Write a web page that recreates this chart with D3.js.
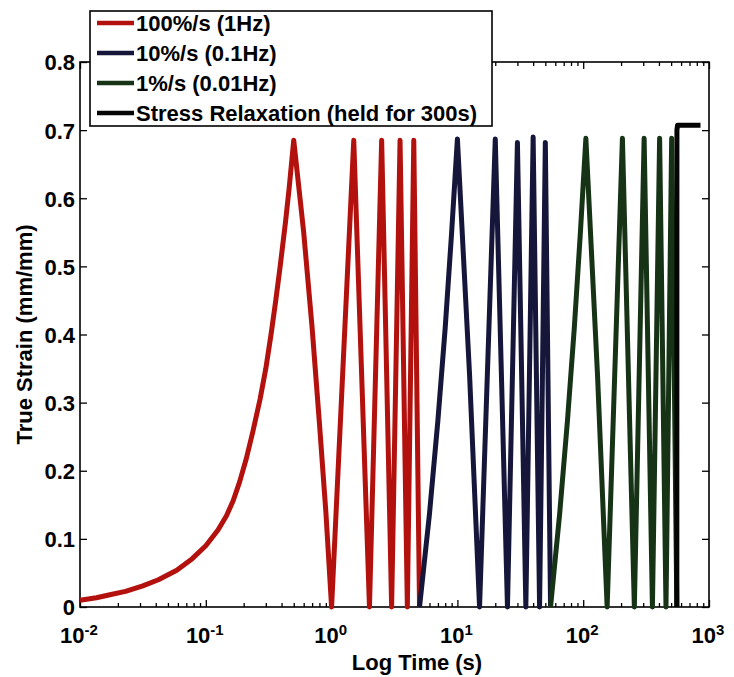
<!DOCTYPE html>
<html>
<head>
<meta charset="utf-8">
<script src="https://cdn.jsdelivr.net/npm/d3@7"></script>
<style>
  body { margin: 0; background: #fff; }
  svg text { font-family: "Liberation Sans", Arial, Helvetica, sans-serif; fill: #000; font-weight: bold; }
</style>
</head>
<body>
<svg id="grafico" width="734" height="677"></svg>
<script>
// valores (tempo em s, deformação verdadeira em mm/mm)
var tempo100 = [0.01, 0.0135, 0.0173, 0.023, 0.0316, 0.042, 0.0588, 0.078, 0.1, 0.125, 0.146, 0.165,
                0.186, 0.21, 0.237, 0.27, 0.3, 0.33, 0.36, 0.39, 0.43, 0.46, 0.5,
                0.6, 0.7, 0.8, 0.9, 1, 1.5, 2, 2.5, 3, 3.5, 4, 4.5, 5];
var deform100 = [0.010, 0.0135, 0.018, 0.023, 0.031, 0.040, 0.054, 0.071, 0.090, 0.113, 0.134, 0.156,
                 0.184, 0.218, 0.258, 0.305, 0.35, 0.40, 0.45, 0.50, 0.565, 0.615, 0.685,
                 0.55, 0.41, 0.27, 0.14, 0, 0.685, 0, 0.685, 0, 0.685, 0, 0.685, 0];

var tempo10 = [5, 6, 7, 8, 9, 10, 12.5, 15, 20, 25, 30, 35, 40, 45, 50, 55];
var deform10 = [0, 0.137, 0.274, 0.41, 0.55, 0.687, 0.34, 0, 0.687, 0, 0.682, 0, 0.69, 0, 0.682, 0];

var tempo1 = [55, 65, 75, 85, 95, 105, 130, 155, 205, 255, 305, 355, 405, 455, 505, 555];
var deform1 = [0, 0.137, 0.274, 0.41, 0.55, 0.688, 0.34, 0, 0.688, 0, 0.688, 0, 0.688, 0, 0.688, 0];

var tempoRelax = [555, 556, 562, 856];
var deformRelax = [0, 0.70, 0.707, 0.707];

var ticksX = [0.01, 0.1, 1, 10, 100, 1000];
var expoentesX = ["-2", "-1", "0", "1", "2", "3"];
var ticksY = [0, 0.1, 0.2, 0.3, 0.4, 0.5, 0.6, 0.7, 0.8];
var rotulosY = ["0", "0.1", "0.2", "0.3", "0.4", "0.5", "0.6", "0.7", "0.8"];

var nomesLegenda = ["100%/s (1Hz)", "10%/s (0.1Hz)", "1%/s (0.01Hz)", "Stress Relaxation (held for 300s)"];
var coresSeries = ["#b3110d", "#15163a", "#163316", "#050505"];

var svg = d3.select("#grafico");
var esq = 80, dir = 709, topo = 62, base = 607;

var x = d3.scaleLog().domain([0.01, 1000]).range([esq, dir]);
var y = d3.scaleLinear().domain([0, 0.8]).range([base, topo]);

// ticks menores da escala log
var menores = [];
ticksX.slice(0, -1).forEach(function (d) {
    for (var k = 2; k <= 9; k++) menores.push(d * k);
});

function estiloEixo(g) {
    g.select(".domain").remove();
    g.selectAll("line").attr("stroke", "#000").attr("stroke-width", 1.3);
}

svg.append("g").attr("transform", "translate(0," + base + ")")
    .call(d3.axisBottom(x).tickValues(ticksX).tickSize(-7).tickFormat(""))
    .call(estiloEixo);
svg.append("g").attr("transform", "translate(0," + base + ")")
    .call(d3.axisBottom(x).tickValues(menores).tickSize(-4).tickFormat(""))
    .call(estiloEixo);
svg.append("g").attr("transform", "translate(0," + topo + ")")
    .call(d3.axisTop(x).tickValues(ticksX).tickSize(-7).tickFormat(""))
    .call(estiloEixo);
svg.append("g").attr("transform", "translate(0," + topo + ")")
    .call(d3.axisTop(x).tickValues(menores).tickSize(-4).tickFormat(""))
    .call(estiloEixo);

var eixoY = svg.append("g").attr("transform", "translate(" + esq + ",0)")
    .call(d3.axisLeft(y).tickValues(ticksY).tickSize(-7).tickPadding(5)
        .tickFormat(function (d, i) { return rotulosY[i]; }))
    .call(estiloEixo);
eixoY.selectAll("text").style("font-size", "22px").attr("dy", "0.36em");

svg.append("g").attr("transform", "translate(" + dir + ",0)")
    .call(d3.axisRight(y).tickValues(ticksY).tickSize(-7).tickFormat(""))
    .call(estiloEixo);

// rótulos 10^n
var rotX = svg.append("g").selectAll("text")
    .data(ticksX)
    .enter()
    .append("text")
    .attr("x", function (d) { return x(d) - 1; })
    .attr("y", base + 36)
    .attr("text-anchor", "middle")
    .style("font-size", "22px");
rotX.append("tspan").text("10");
rotX.append("tspan")
    .attr("dy", "-0.55em")
    .style("font-size", "15px")
    .text(function (d, i) { return expoentesX[i]; });

svg.append("text")
    .attr("x", 417)
    .attr("y", base + 63)
    .attr("text-anchor", "middle")
    .style("font-size", "22px")
    .text("Log Time (s)");

svg.append("text")
    .attr("transform", "translate(32," + (topo + base) / 2 + ") rotate(-90)")
    .attr("text-anchor", "middle")
    .style("font-size", "22px")
    .text("True Strain (mm/mm)");

// moldura
svg.append("rect")
    .attr("x", esq).attr("y", topo)
    .attr("width", dir - esq).attr("height", base - topo)
    .attr("fill", "none").attr("stroke", "#000").attr("stroke-width", 1.6);

// curvas
var linha = d3.line()
    .x(function (d) { return x(d[0]); })
    .y(function (d) { return y(d[1]); });

var series = [
    d3.zip(tempo100, deform100),
    d3.zip(tempo10, deform10),
    d3.zip(tempo1, deform1),
    d3.zip(tempoRelax, deformRelax)
];

svg.append("g").selectAll("path")
    .data(series)
    .enter()
    .append("path")
    .attr("d", linha)
    .attr("fill", "none")
    .attr("stroke", function (d, i) { return coresSeries[i]; })
    .attr("stroke-width", 5)
    .attr("stroke-linejoin", "round");

// legenda
var legenda = svg.append("g").attr("transform", "translate(90,11)");
legenda.append("rect")
    .attr("width", 402).attr("height", 115)
    .attr("fill", "#fff").attr("stroke", "#000").attr("stroke-width", 1.6);

var itens = legenda.selectAll("g.item")
    .data(nomesLegenda)
    .enter()
    .append("g")
    .attr("class", "item")
    .attr("transform", function (d, i) { return "translate(0," + (12 + i * 30) + ")"; });

itens.append("line")
    .attr("x1", 7).attr("x2", 44)
    .attr("stroke", function (d, i) { return coresSeries[i]; })
    .attr("stroke-width", 4.5);

itens.append("text")
    .attr("x", 46)
    .attr("dy", "0.36em")
    .style("font-size", "22px")
    .text(function (d) { return d; });
</script>
</body>
</html>
